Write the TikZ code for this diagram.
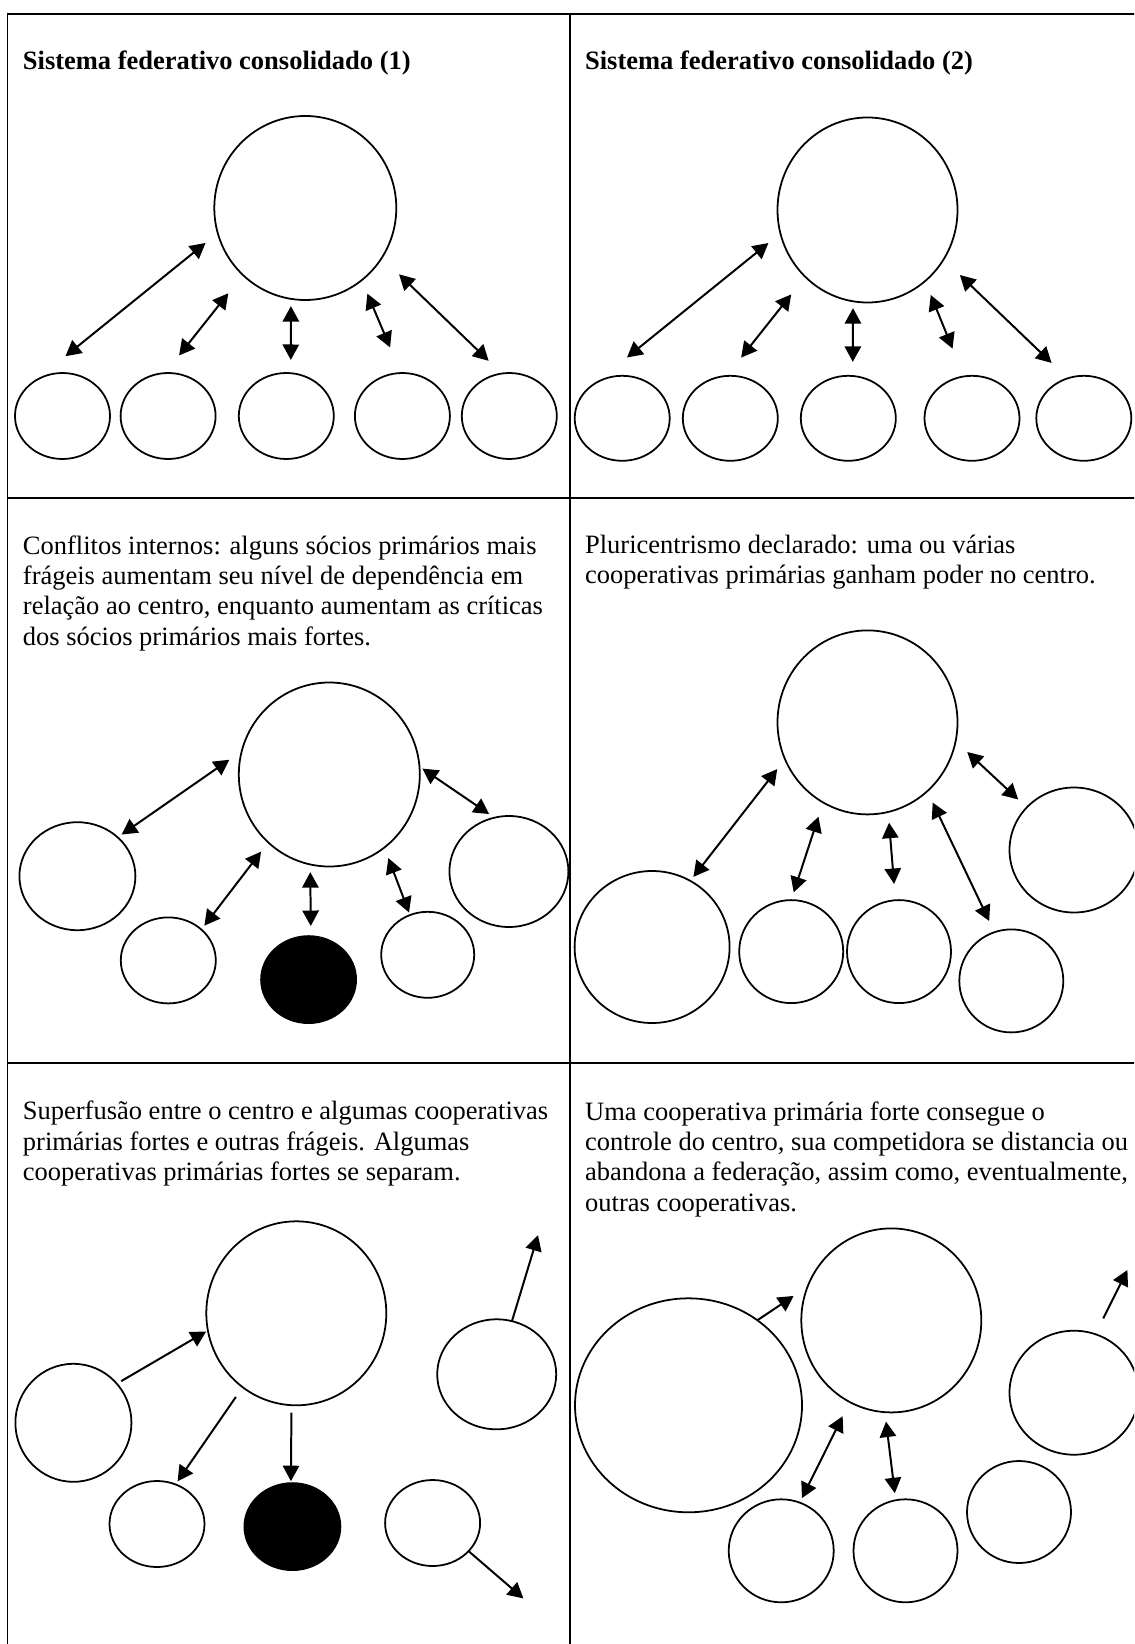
\documentclass[tikz,border=0pt]{standalone}
\usepackage{fontspec}
\setmainfont{Liberation Serif}
\usetikzlibrary{shapes.geometric,arrows.meta}
\tikzstyle{coop} = [draw, ellipse, line width=0.8pt, inner sep=0pt, outer sep=0pt]
\tikzstyle{negra} = [coop, fill=black]
\tikzstyle{seta} = [line width=0.9pt, -{Triangle[length=7pt,width=7.4pt]}]
\tikzstyle{setadupla} = [line width=0.9pt, {Triangle[length=7pt,width=7.4pt]}-{Triangle[length=7pt,width=7.4pt]}]
\tikzstyle{titulo} = [anchor=base west, inner sep=0pt, font=\fontsize{12}{13.8}\selectfont\bfseries]
\tikzstyle{texto} = [anchor=base west, inner sep=0pt, align=left, font=\fontsize{12}{13.8}\selectfont]
\tikzstyle{linha} = [line width=0.9pt]
\tikzset{tam/.style 2 args={minimum width=#1*0.453pt, minimum height=#2*0.453pt}}

\begin{document}
\begin{tikzpicture}[x=0.453pt, y=-0.453pt]
	\useasboundingbox (0,0) rectangle (1134,1644);
	\clip (0,0) rectangle (1134,1644);
	\draw[linha] (1150,14) -| (7.5,1660);
	\draw[linha] (570,14) -- (570,1660);
	\draw[linha] (7.5,498) -- (1150,498);
	\draw[linha] (7.5,1063) -- (1150,1063);

	\node[titulo] (tit1) at (22.5,70) {Sistema federativo consolidado (1)};
	\node[coop, tam={182}{184}] (c1) at (305.3,208) {};
	\node[coop, tam={95}{86}] (s1a) at (62.5,416) {};
	\node[coop, tam={95}{86}] (s1b) at (168.1,416) {};
	\node[coop, tam={95}{86}] (s1c) at (286.3,416) {};
	\node[coop, tam={95}{86}] (s1d) at (402.4,416) {};
	\node[coop, tam={95}{86}] (s1e) at (509.3,416) {};
	\draw[setadupla, shorten <=7.1pt, shorten >=18.1pt] (c1.196) -- (s1a.129);
	\draw[setadupla, shorten <=10.6pt, shorten >=10.2pt] (c1.227) -- (s1b.94);
	\draw[setadupla, shorten <=3.3pt, shorten >=6pt] (c1.261) -- (s1c.84);
	\draw[setadupla, shorten <=6.6pt, shorten >=12.6pt] (c1.308) -- (s1d.92);
	\draw[setadupla, shorten <=10.8pt, shorten >=8.3pt] (c1.327) -- (s1e.100);

	\node[titulo] (tit2) at (584.7,70) {Sistema federativo consolidado (2)};
	\node[coop, tam={180}{185}] (c2) at (867.5,210) {};
	\node[coop, tam={95}{85}] (s2a) at (622.2,418.3) {};
	\node[coop, tam={95}{85}] (s2b) at (730.3,418.3) {};
	\node[coop, tam={95}{85}] (s2c) at (848.3,418.3) {};
	\node[coop, tam={95}{85}] (s2d) at (972,418.3) {};
	\node[coop, tam={95}{85}] (s2e) at (1083.8,418.3) {};
	\draw[setadupla, shorten <=7pt, shorten >=19pt] (c2.195) -- (s2a.129);
	\draw[setadupla, shorten <=10.2pt, shorten >=10.6pt] (c2.227) -- (s2b.95);
	\draw[setadupla, shorten <=3.1pt, shorten >=6.4pt] (c2.261) -- (s2c.84);
	\draw[setadupla, shorten <=6.8pt, shorten >=13.6pt] (c2.309) -- (s2d.101);
	\draw[setadupla, shorten <=10.2pt, shorten >=10.1pt] (c2.327) -- (s2e.112);

	\node[texto] (txt3) at (22.5,645.4) {Conflitos internos: alguns sócios primários mais\\frágeis aumentam seu nível de dependência em\\relação ao centro, enquanto aumentam as críticas\\dos sócios primários mais fortes.};
	\node[coop, tam={181}{184}] (c3) at (329.3,774.5) {};
	\node[coop, tam={116}{108}] (s3a) at (77.4,876.2) {};
	\node[coop, tam={95}{86}] (s3b) at (168.3,960.4) {};
	\node[negra, tam={95}{87}] (s3c) at (308.6,979.6) {};
	\node[coop, tam={93}{86}] (s3d) at (427.7,954.8) {};
	\node[coop, tam={119}{111}] (s3e) at (508.9,871.5) {};
	\draw[setadupla, shorten <=6.9pt, shorten >=2.2pt] (c3.165) -- (s3a.44);
	\draw[setadupla, shorten <=5.3pt, shorten >=2.2pt] (c3.228) -- (s3b.43);
	\draw[setadupla, shorten <=3.5pt, shorten >=4.6pt] (c3.258) -- (s3c.87);
	\draw[setadupla, shorten <=5.1pt, shorten >=1.2pt] (c3.307) -- (s3d.114);
	\draw[setadupla, shorten <=1.6pt, shorten >=2.9pt] (c3.5) -- (s3e.105);

	\node[texto] (txt4) at (584.7,583.5) {Pluricentrismo declarado: uma ou várias\\cooperativas primárias ganham poder no centro.};
	\node[coop, tam={180}{184}] (c4) at (867.5,722.4) {};
	\node[coop, tam={155}{152}] (s4a) at (652.1,947) {};
	\node[coop, tam={104}{103}] (s4b) at (791.2,951.6) {};
	\node[coop, tam={104}{103}] (s4c) at (899,951.6) {};
	\node[coop, tam={104}{103}] (s4d) at (1011.3,980.9) {};
	\node[coop, tam={129}{125}] (s4e) at (1074,850) {};
	\draw[setadupla, shorten <=5.7pt, shorten >=2.3pt] (c4.204) -- (s4a.60);
	\draw[setadupla, shorten <=6.8pt, shorten >=3.7pt] (c4.241) -- (s4b.90);
	\draw[setadupla, shorten <=4.9pt, shorten >=7.4pt] (c4.283) -- (s4c.94);
	\draw[setadupla, shorten <=5.7pt, shorten >=5.6pt] (c4.311) -- (s4d.109);
	\draw[setadupla, shorten <=7.2pt, shorten >=5.3pt] (c4.348) -- (s4e.138);

	\node[texto] (txt5) at (22.5,1180.9) {Superfusão entre o centro e algumas cooperativas\\primárias fortes e outras frágeis. Algumas\\cooperativas primárias fortes se separam.};
	\node[coop, tam={180}{184}] (c5) at (296.3,1313.3) {};
	\node[coop, tam={116}{118}] (s5a) at (73.4,1422.8) {};
	\node[coop, tam={95}{86}] (s5b) at (157,1524) {};
	\node[negra, tam={96}{87}] (s5c) at (292.4,1526.6) {};
	\node[coop, tam={95}{86}] (s5d) at (432.6,1523) {};
	\node[coop, tam={119}{110}] (s5e) at (496.7,1374.3) {};
	\coordinate (f5a) at (538,1235.2);
	\coordinate (f5b) at (523.4,1598.4);
	\draw[seta, shorten <=2.3pt, shorten >=0.9pt] (s5a.42) -- (c5.191);
	\draw[seta, shorten <=5.4pt, shorten >=1.7pt] (c5.234) -- (s5b.65);
	\draw[seta, shorten <=3.4pt, shorten >=0.9pt] (c5.267) -- (s5c.92);
	\draw[seta] (s5e.74) -- (f5a);
	\draw[seta] (s5d.322) -- (f5b);

	\node[texto] (txt6) at (584.7,1211.4) {Uma cooperativa primária forte consegue o\\controle do centro, sua competidora se distancia ou\\abandona a federação, assim como, eventualmente,\\outras cooperativas.};
	\node[coop, tam={180}{184}] (c6) at (891.3,1320.4) {};
	\node[coop, tam={227}{214}] (s6a) at (688.5,1405.3) {};
	\node[coop, tam={105}{103}] (s6b) at (781.2,1550.8) {};
	\node[coop, tam={104}{103}] (s6c) at (905.5,1550.8) {};
	\node[coop, tam={104}{102}] (s6d) at (1019,1512) {};
	\node[coop, tam={129}{124}] (s6e) at (1074,1392.7) {};
	\coordinate (f6a) at (1127.4,1270);
	\draw[seta, shorten >=7.6pt] (s6a.51) -- (c6.158);
	\draw[setadupla, shorten <=7.2pt, shorten >=2.3pt] (c6.243) -- (s6b.69);
	\draw[setadupla, shorten <=4.3pt, shorten >=3.2pt] (c6.266) -- (s6c.101);
	\draw[seta, shorten <=8pt] (s6e.70) -- (f6a);
\end{tikzpicture}
\end{document}
